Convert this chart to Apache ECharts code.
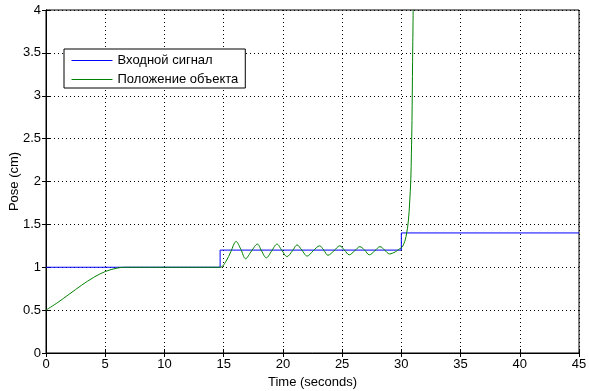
<!DOCTYPE html>
<html>
<head>
<meta charset="utf-8">
<script src="https://cdn.jsdelivr.net/npm/echarts@6/dist/echarts.min.js"></script>
<style>
html,body{margin:0;padding:0;background:#fff;}
#c{width:589px;height:391px;}
</style>
</head>
<body>
<div id="c"></div>
<script>
const seriesNames = ['Входной сигнал', 'Положение объекта'];
const xTitle = 'Time (seconds)';
const yTitle = 'Pose (cm)';
const xTicks = [0, 5, 10, 15, 20, 25, 30, 35, 40, 45];
const yTicks = [0, 0.5, 1, 1.5, 2, 2.5, 3, 3.5, 4];

// Input signal (step reference): [time, value]
const inputSignal = [
  [0, 1.0], [14.7, 1.0], [14.7, 1.2], [30.0, 1.2], [30.0, 1.4], [45, 1.4]
];

// Object position: [time, value]
const objectPosition = [
  [0, 0.5], [1, 0.59], [2, 0.69], [3, 0.79], [4, 0.88], [5, 0.95], [6, 0.99], [6.7, 1.0],
  [14.7, 1.0], [15.2, 1.07], [15.6, 1.18], [16.05, 1.30], [16.45, 1.21], [16.85, 1.10],
  [17.35, 1.19], [17.85, 1.27], [18.2, 1.19], [18.6, 1.11], [19.05, 1.19], [19.5, 1.27],
  [19.9, 1.20], [20.35, 1.125], [20.8, 1.19], [21.2, 1.26], [21.6, 1.20], [22.05, 1.13],
  [22.55, 1.19], [23.1, 1.25], [23.45, 1.20], [23.8, 1.14], [24.3, 1.19], [24.8, 1.25],
  [25.2, 1.20], [25.6, 1.145], [26.05, 1.19], [26.5, 1.24], [26.9, 1.20], [27.3, 1.145],
  [27.75, 1.19], [28.2, 1.24], [28.6, 1.20], [29.0, 1.155], [29.5, 1.18], [29.85, 1.215],
  [30.1, 1.24], [30.4, 1.36], [30.6, 1.55], [30.7, 1.75], [30.8, 2.02], [30.85, 2.33],
  [30.9, 2.71], [30.95, 3.4], [31.0, 4.0]
];

const font = 'Liberation Sans, Arial, sans-serif';
const fs = 13;
const dotted = {color: '#000', width: 1, type: [1, 3]};

const chart = echarts.init(document.getElementById('c'), null, {renderer: 'canvas'});
chart.setOption({
  animation: false,
  backgroundColor: '#fff',
  textStyle: {fontFamily: font},
  grid: {left: 46, right: 10, top: 10, bottom: 38, show: true, borderColor: '#000', borderWidth: 1,
         containLabel: false, outerBoundsMode: 'none'},
  legend: {
    data: seriesNames,
    orient: 'vertical',
    left: 64, top: 49,
    itemWidth: 41, itemHeight: 14, itemGap: 6,
    padding: [5, 7, 2, 7],
    backgroundColor: '#fff', borderColor: '#000', borderWidth: 1, borderRadius: 0,
    itemStyle: {opacity: 0},
    lineStyle: {width: 1},
    textStyle: {fontFamily: font, fontSize: fs, color: '#000'}
  },
  xAxis: [{
    type: 'value', min: xTicks[0], max: xTicks[xTicks.length - 1], interval: 5,
    name: xTitle, nameLocation: 'middle', nameGap: 22,
    nameTextStyle: {fontFamily: font, fontSize: fs, color: '#000'},
    axisLine: {show: true, lineStyle: {color: '#000', width: 1}},
    axisTick: {show: true, inside: true, length: 4, lineStyle: {color: '#000'}},
    axisLabel: {color: '#000', fontSize: fs, fontFamily: font, margin: 5},
    splitLine: {show: true, lineStyle: dotted}
  }, {
    type: 'value', position: 'top', min: xTicks[0], max: xTicks[xTicks.length - 1], interval: 5,
    axisLine: {show: true, lineStyle: {color: '#000'}},
    axisTick: {show: true, inside: true, length: 4, lineStyle: {color: '#000'}},
    axisLabel: {show: false}, splitLine: {show: false}
  }],
  yAxis: [{
    type: 'value', min: yTicks[0], max: yTicks[yTicks.length - 1], interval: 0.5,
    name: yTitle, nameLocation: 'middle', nameGap: 25, nameRotate: 90, nameMoveOverlap: false,
    nameTextStyle: {fontFamily: font, fontSize: fs, color: '#000'},
    axisLine: {show: true, lineStyle: {color: '#000', width: 1}},
    axisTick: {show: true, inside: true, length: 4, lineStyle: {color: '#000'}},
    axisLabel: {color: '#000', fontSize: fs, fontFamily: font, margin: 5},
    splitLine: {show: true, lineStyle: dotted}
  }, {
    type: 'value', position: 'right', min: yTicks[0], max: yTicks[yTicks.length - 1], interval: 0.5,
    axisLine: {show: true, lineStyle: {color: '#000'}},
    axisTick: {show: true, inside: true, length: 4, lineStyle: {color: '#000'}},
    axisLabel: {show: false}, splitLine: {show: false}
  }],
  series: [{
    name: seriesNames[0], type: 'line', data: inputSignal,
    symbol: 'none', clip: true,
    lineStyle: {color: '#0000ff', width: 1}, itemStyle: {color: '#0000ff'}
  }, {
    name: seriesNames[1], type: 'line', data: objectPosition,
    symbol: 'none', smooth: 0.35, clip: true,
    lineStyle: {color: '#008000', width: 1}, itemStyle: {color: '#008000'}
  }]
});
</script>
</body>
</html>
